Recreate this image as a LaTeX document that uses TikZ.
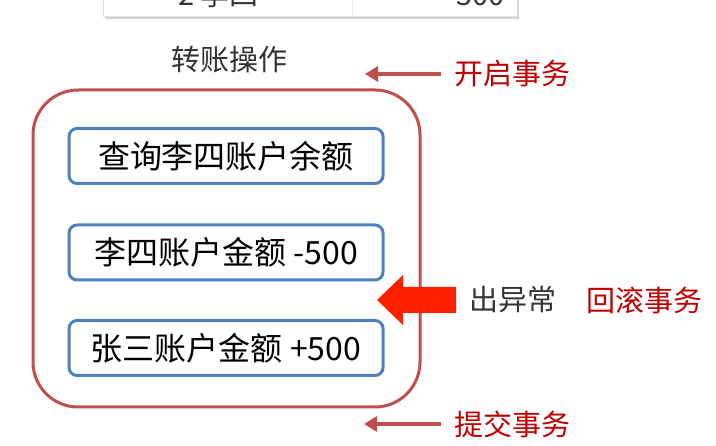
\documentclass[tikz,border=0pt]{standalone}
\usepackage{fontspec}
\setmainfont{Noto Sans CJK SC}
\usetikzlibrary{arrows.meta,positioning,shadows}
\definecolor{blueline}{HTML}{4F81BD}
\definecolor{redline}{HTML}{C0504D}
\definecolor{darkred}{HTML}{C00000}
\definecolor{alarm}{HTML}{FF2000}
\tikzset{
  box/.style={draw=blueline,line width=3pt,rounded corners=8pt,fill=white,
              minimum width=314pt,minimum height=55pt,inner sep=0pt,
              font=\fontsize{32}{38}\selectfont},
  frame/.style={draw=redline,line width=3pt,rounded corners=45pt,
                minimum width=387pt,minimum height=317pt},
  tx/.style={font=\fontsize{29}{34}\selectfont,text=black!80,inner sep=0pt},
  lbl/.style={tx,text=darkred},
  arr/.style={-{Triangle[length=13pt,width=15pt]},line width=4pt,redline}
}

\begin{document}
\begin{tikzpicture}[x=1pt,y=-1pt]
  \useasboundingbox (0,0) rectangle (716,446);
  \clip (0,0) rectangle (716,446);
  % table above, cut off
  \draw[gray!25,fill=white,drop shadow={shadow xshift=2pt,shadow yshift=-3pt,opacity=0.35}]
    (103,-30) rectangle (517,16);
  \draw[gray!12] (352,-30) -- (352,16);
  \node[tx,anchor=base west] (row) at (178,6) {2\ 李四};
  \node[tx,anchor=base east] (amt) at (505,6) {500};

  \node[frame] (trans) at (226.5,248.5) {};
  \node[tx] (title) at (229,60) {转账操作};
  \node[box] (q) at (226,156) {查询李四账户余额};
  \node[box] (sub) at (226,252.5) {李四账户金额 -500};
  \node[box] (add) at (226,348) {张三账户金额 +500};

  \node[lbl,anchor=west] (begin) at (454,74) {开启事务};
  \node[lbl,anchor=west] (commit) at (454,424) {提交事务};
  \node[tx,anchor=west] (err) at (469,300) {出异常};
  \node[lbl,anchor=west] (roll) at (586,300) {回滚事务};
  \coordinate (bt) at (365,74);
  \coordinate (ct) at (364,424);
  \draw[arr] ([xshift=-13pt]begin.west) -- (bt);
  \draw[arr] ([xshift=-13pt]commit.west) -- (ct);

  % exception arrow
  \fill[alarm] (456,287) -- (403,287) -- (403,275) -- (377,300) -- (403,325)
    -- (403,313) -- (456,313) -- cycle;
\end{tikzpicture}
\end{document}
